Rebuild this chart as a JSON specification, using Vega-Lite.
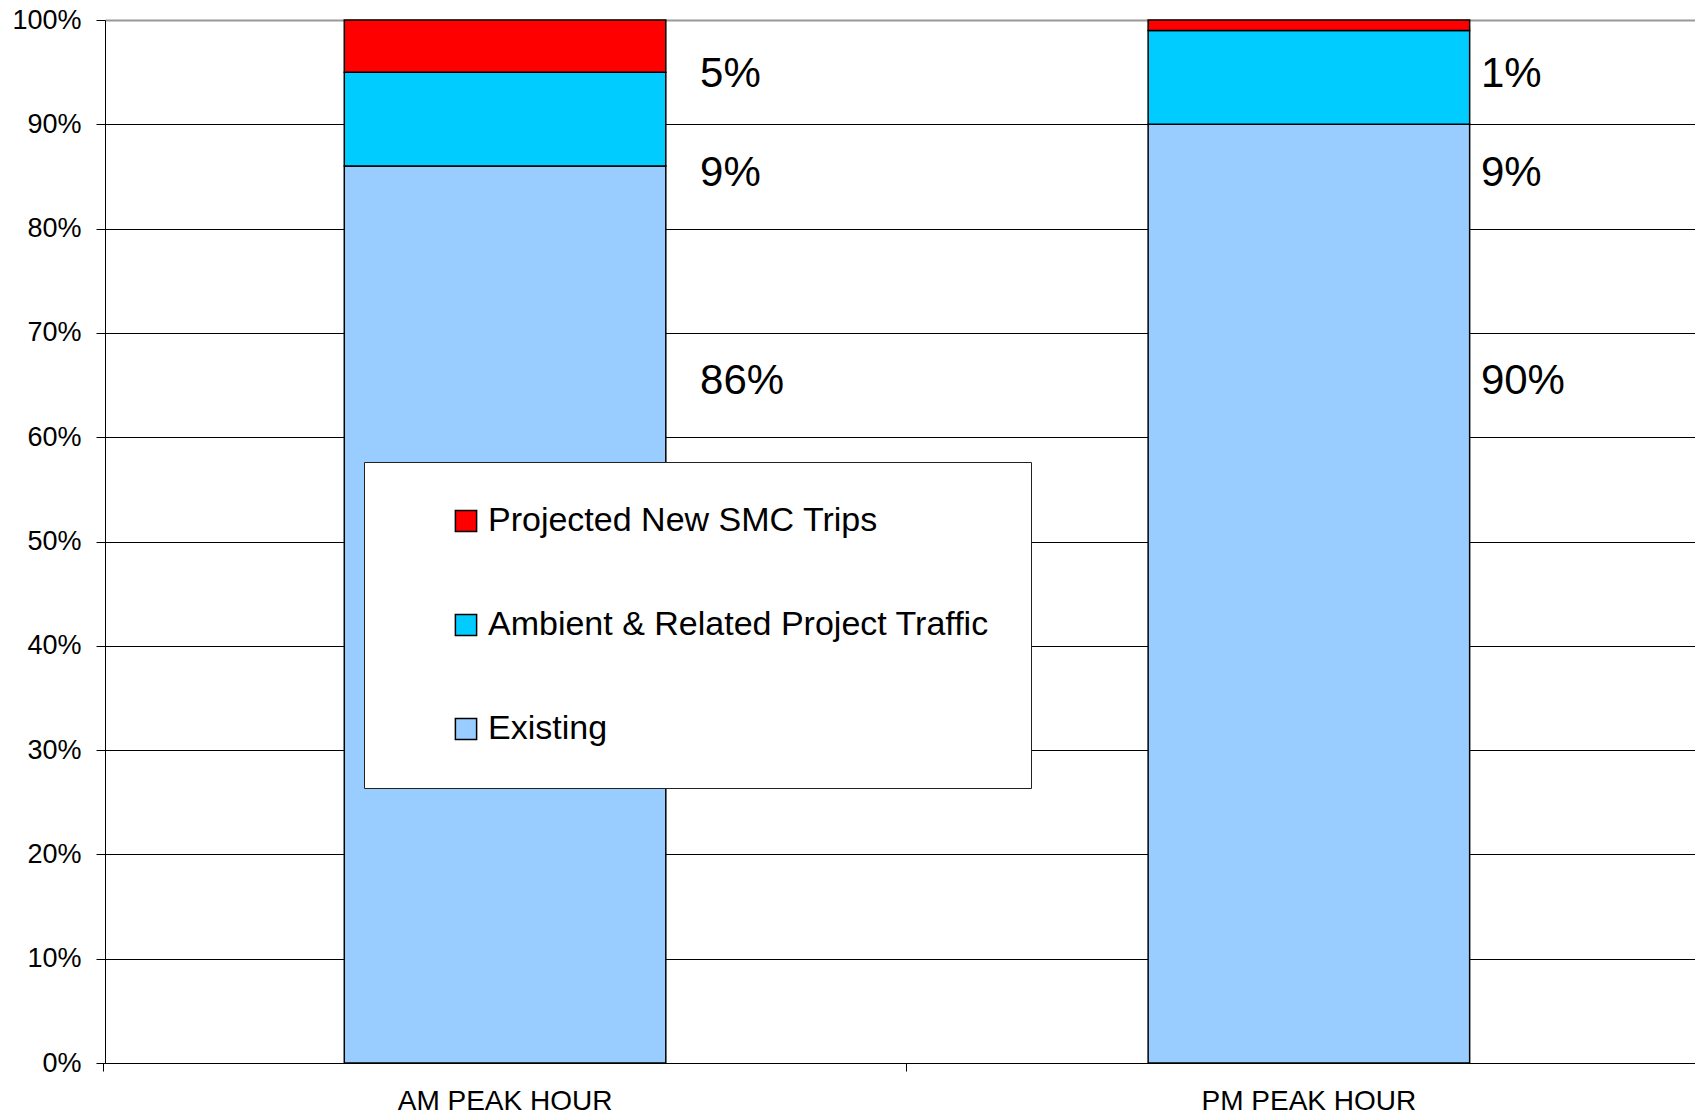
{
  "$schema": "https://vega.github.io/schema/vega-lite/v6.json",
  "width": 1590,
  "height": 1043,
  "autosize": {"type": "none"},
  "padding": {"left": 105, "top": 20, "right": 0, "bottom": 54},
  "background": "white",
  "config": {"font": "Liberation Sans", "view": {"stroke": null}},
  "data": {
    "values": [
      {"period": "AM PEAK HOUR", "series": "Existing", "share": 0.86, "label": "86%", "rank": 1},
      {"period": "AM PEAK HOUR", "series": "Ambient & Related Project Traffic", "share": 0.09, "label": "9%", "rank": 2},
      {"period": "AM PEAK HOUR", "series": "Projected New SMC Trips", "share": 0.05, "label": "5%", "rank": 3},
      {"period": "PM PEAK HOUR", "series": "Existing", "share": 0.90, "label": "90%", "rank": 1},
      {"period": "PM PEAK HOUR", "series": "Ambient & Related Project Traffic", "share": 0.09, "label": "9%", "rank": 2},
      {"period": "PM PEAK HOUR", "series": "Projected New SMC Trips", "share": 0.01, "label": "1%", "rank": 3}
    ]
  },
  "resolve": {"axis": {"x": "independent"}},
  "layer": [
    {
      "mark": {"type": "bar", "stroke": "black", "strokeWidth": 1.5},
      "encoding": {
        "x": {
          "field": "period",
          "type": "nominal",
          "sort": null,
          "scale": {"paddingInner": 0.6, "paddingOuter": 0.289, "align": 0.515},
          "axis": {
            "orient": "bottom",
            "title": null,
            "labelAngle": 0,
            "labelFontSize": 28,
            "labelColor": "black",
            "labelLimit": 500,
            "labelPadding": 24,
            "domainColor": "black",
            "domainWidth": 1,
            "ticks": false,
            "grid": false
          }
        },
        "y": {
          "field": "share",
          "type": "quantitative",
          "stack": "zero",
          "scale": {"domain": [0, 1], "nice": false},
          "axis": {
            "title": null,
            "values": [0, 0.1, 0.2, 0.3, 0.4, 0.5, 0.6, 0.7, 0.8, 0.9, 1],
            "format": ".0%",
            "labelFontSize": 27,
            "labelColor": "black",
            "labelPadding": 15,
            "tickSize": 9,
            "tickColor": "black",
            "domainColor": "black",
            "domainWidth": 1,
            "grid": true,
            "gridColor": {"condition": {"test": "datum.value === 1", "value": "#999999"}, "value": "black"},
            "gridWidth": {"condition": {"test": "datum.value === 1", "value": 2}, "value": 1}
          }
        },
        "color": {
          "field": "series",
          "type": "nominal",
          "scale": {
            "domain": ["Projected New SMC Trips", "Ambient & Related Project Traffic", "Existing"],
            "range": ["#FF0000", "#00CCFF", "#99CCFF"]
          },
          "legend": {
            "title": null,
            "orient": "none",
            "legendX": 259,
            "legendY": 442,
            "padding": 42,
            "symbolOffset": 43,
            "fillColor": "white",
            "strokeColor": "#222222",
            "labelFontSize": 34,
            "labelColor": "black",
            "labelOffset": 5,
            "labelLimit": 800,
            "rowPadding": 70,
            "symbolType": "square",
            "symbolSize": 450,
            "symbolStrokeColor": "black",
            "symbolStrokeWidth": 1.5
          }
        },
        "order": {"field": "rank", "type": "quantitative"}
      }
    },
    {
      "transform": [{"filter": "datum.rank === 3 && datum.period === 'AM PEAK HOUR'"}],
      "mark": {"type": "text", "align": "left", "baseline": "middle", "dx": 195, "fontSize": 42, "color": "black"},
      "encoding": {
        "x": {
          "field": "period",
          "type": "nominal",
          "sort": null,
          "axis": {
            "orient": "bottom",
            "title": null,
            "labels": false,
            "domain": false,
            "grid": false,
            "ticks": true,
            "tickSize": 8,
            "tickColor": "black",
            "bandPosition": -0.75
          }
        },
        "y": {"datum": 0.948, "type": "quantitative"},
        "text": {"field": "label"}
      }
    },
    {
      "transform": [{"filter": "datum.rank === 2 && datum.period === 'AM PEAK HOUR'"}],
      "mark": {"type": "text", "align": "left", "baseline": "middle", "dx": 195, "fontSize": 42, "color": "black"},
      "encoding": {
        "x": {"field": "period", "type": "nominal", "sort": null, "axis": null},
        "y": {"datum": 0.853, "type": "quantitative"},
        "text": {"field": "label"}
      }
    },
    {
      "transform": [{"filter": "datum.rank === 1 && datum.period === 'AM PEAK HOUR'"}],
      "mark": {"type": "text", "align": "left", "baseline": "middle", "dx": 195, "fontSize": 42, "color": "black"},
      "encoding": {
        "x": {"field": "period", "type": "nominal", "sort": null, "axis": null},
        "y": {"datum": 0.654, "type": "quantitative"},
        "text": {"field": "label"}
      }
    },
    {
      "transform": [{"filter": "datum.rank === 3 && datum.period === 'PM PEAK HOUR'"}],
      "mark": {"type": "text", "align": "left", "baseline": "middle", "dx": 172, "fontSize": 42, "color": "black"},
      "encoding": {
        "x": {"field": "period", "type": "nominal", "sort": null, "axis": null},
        "y": {"datum": 0.948, "type": "quantitative"},
        "text": {"field": "label"}
      }
    },
    {
      "transform": [{"filter": "datum.rank === 2 && datum.period === 'PM PEAK HOUR'"}],
      "mark": {"type": "text", "align": "left", "baseline": "middle", "dx": 172, "fontSize": 42, "color": "black"},
      "encoding": {
        "x": {"field": "period", "type": "nominal", "sort": null, "axis": null},
        "y": {"datum": 0.853, "type": "quantitative"},
        "text": {"field": "label"}
      }
    },
    {
      "transform": [{"filter": "datum.rank === 1 && datum.period === 'PM PEAK HOUR'"}],
      "mark": {"type": "text", "align": "left", "baseline": "middle", "dx": 172, "fontSize": 42, "color": "black"},
      "encoding": {
        "x": {"field": "period", "type": "nominal", "sort": null, "axis": null},
        "y": {"datum": 0.654, "type": "quantitative"},
        "text": {"field": "label"}
      }
    }
  ]
}
